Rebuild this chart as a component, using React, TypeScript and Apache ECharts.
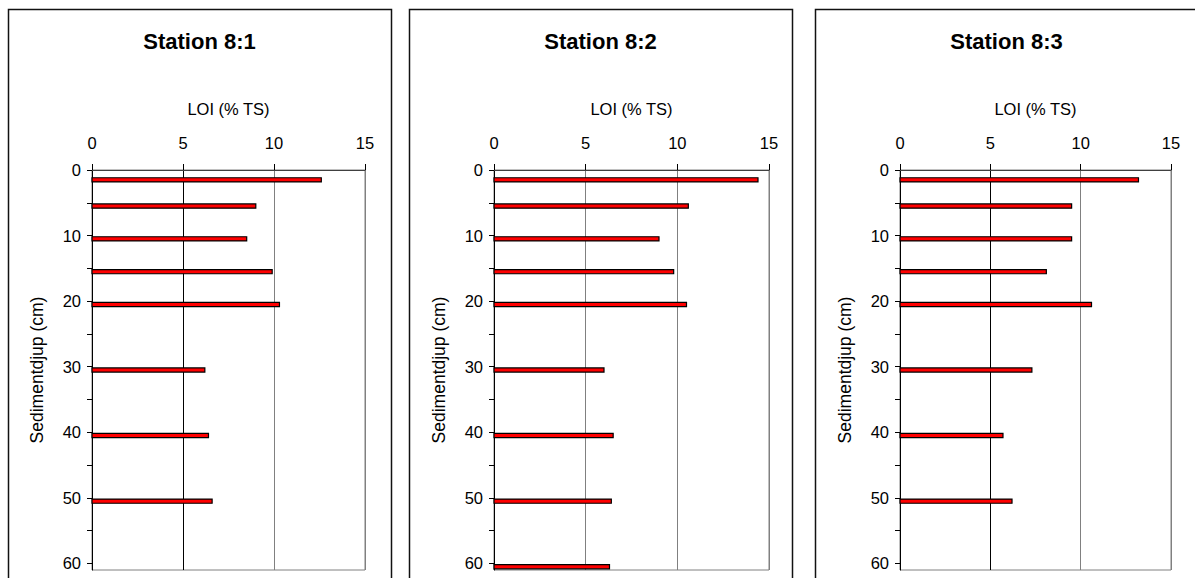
import React, { useEffect, useRef } from "react";
import * as echarts from "echarts";

const stationTitles = ["Station 8:1", "Station 8:2", "Station 8:3"];
const xAxisName = "LOI (% TS)";
const yAxisName = "Sedimentdjup (cm)";

const depths1 = [1.5, 5.5, 10.5, 15.5, 20.5, 30.5, 40.5, 50.5];
const loi1 = [12.6, 9.0, 8.5, 9.9, 10.3, 6.2, 6.4, 6.6];

const depths2 = [1.5, 5.5, 10.5, 15.5, 20.5, 30.5, 40.5, 50.5, 60.5];
const loi2 = [14.4, 10.6, 9.0, 9.8, 10.5, 6.0, 6.5, 6.4, 6.3];

const depths3 = [1.5, 5.5, 10.5, 15.5, 20.5, 30.5, 40.5, 50.5];
const loi3 = [13.2, 9.5, 9.5, 8.1, 10.6, 7.3, 5.7, 6.2];

const xTickValues = [0, 5, 10, 15];
const yTickValues = [0, 5, 10, 15, 20, 25, 30, 35, 40, 45, 50, 55, 60];
const yLabelValues = [0, 10, 20, 30, 40, 50, 60];

const FONT = "'Liberation Sans', Arial, sans-serif";

const panels = [
  { left: 8, gridLeft: 92, gridWidth: 273, depths: depths1, loi: loi1, splitColors: ["#808080", "#000000", "#808080", "#808080"] },
  { left: 409, gridLeft: 494, gridWidth: 275, depths: depths2, loi: loi2, splitColors: ["#808080", "#808080", "#808080", "#808080"] },
  { left: 815, gridLeft: 900, gridWidth: 271, depths: depths3, loi: loi3, splitColors: ["#808080", "#000000", "#808080", "#808080"] },
];

const GRID_TOP = 170;
const GRID_HEIGHT = 400;
const PANEL_W = 383;

export default function App() {
  const ref = useRef<HTMLDivElement>(null);

  useEffect(() => {
    if (!ref.current) return;
    const chart = echarts.init(ref.current, null, { renderer: "svg" });

    const option: any = {
      animation: false,
      backgroundColor: "#ffffff",
      textStyle: { fontFamily: FONT },
      title: panels.map((p, i) => ({
        text: stationTitles[i],
        left: p.left + PANEL_W / 2,
        top: 30,
        textAlign: "center",
        padding: 0,
        textStyle: { fontFamily: FONT, fontSize: 22, fontWeight: "bold", color: "#000" },
      })),
      graphic: panels.map((p) => ({
        type: "rect",
        silent: true,
        shape: { x: p.left + 0.5, y: 9.5, width: PANEL_W, height: 700 },
        style: { fill: "none", stroke: "#111", lineWidth: 1.5 },
      })),
      grid: panels.map((p) => ({
        left: p.gridLeft,
        top: GRID_TOP,
        width: p.gridWidth,
        height: GRID_HEIGHT,
        show: true,
        borderColor: "#808080",
        borderWidth: 1,
        backgroundColor: "transparent",
      })),
      xAxis: panels.map((p, i) => ({
        type: "value",
        gridIndex: i,
        position: "top",
        min: 0,
        max: 15,
        interval: 5,
        name: xAxisName,
        nameLocation: "middle",
        nameGap: 53,
        nameTextStyle: { fontFamily: FONT, fontSize: 16.5, color: "#000" },
        axisLine: { show: true, lineStyle: { color: "#404040", width: 1 } },
        axisTick: { show: true, inside: false, length: 6, lineStyle: { color: "#000" }, customValues: xTickValues },
        axisLabel: { show: true, margin: 19, fontFamily: FONT, fontSize: 16.5, color: "#000", customValues: xTickValues },
        splitLine: { show: true, lineStyle: { color: p.splitColors, width: 1 } },
      })),
      yAxis: panels.map((p, i) => ({
        type: "value",
        gridIndex: i,
        inverse: true,
        min: 0,
        max: 61,
        interval: 5,
        name: yAxisName,
        nameLocation: "middle",
        nameRotate: 90,
        nameGap: 46,
        nameTextStyle: { fontFamily: FONT, fontSize: 17.5, color: "#000" },
        axisLine: { show: true, onZero: false, lineStyle: { color: "#000", width: 1 } },
        axisTick: { show: true, inside: false, length: 5, lineStyle: { color: "#000" }, customValues: yTickValues },
        axisLabel: { show: true, margin: 11, fontFamily: FONT, fontSize: 16.5, color: "#000", customValues: yLabelValues },
        splitLine: { show: false },
      })),
      series: panels.map((p, i) => ({
        type: "custom",
        xAxisIndex: i,
        yAxisIndex: i,
        encode: { x: 0, y: 1 },
        data: p.loi.map((v, k) => [v, p.depths[k]]),
        renderItem: (params: any, api: any) => {
          const v = api.value(0);
          const d = api.value(1);
          const s = api.coord([0, d]);
          const e = api.coord([v, d]);
          const h = 4.2;
          return {
            type: "rect",
            shape: { x: s[0], y: s[1] - h / 2, width: e[0] - s[0], height: h },
            style: { fill: "#ff0000", stroke: "#000000", lineWidth: 1.2 },
          };
        },
      })),
    };

    chart.setOption(option);
    return () => chart.dispose();
  }, []);

  return (
    <div
      ref={ref}
      style={{ position: "fixed", left: 0, top: 0, width: 1195, height: 578 }}
    />
  );
}
